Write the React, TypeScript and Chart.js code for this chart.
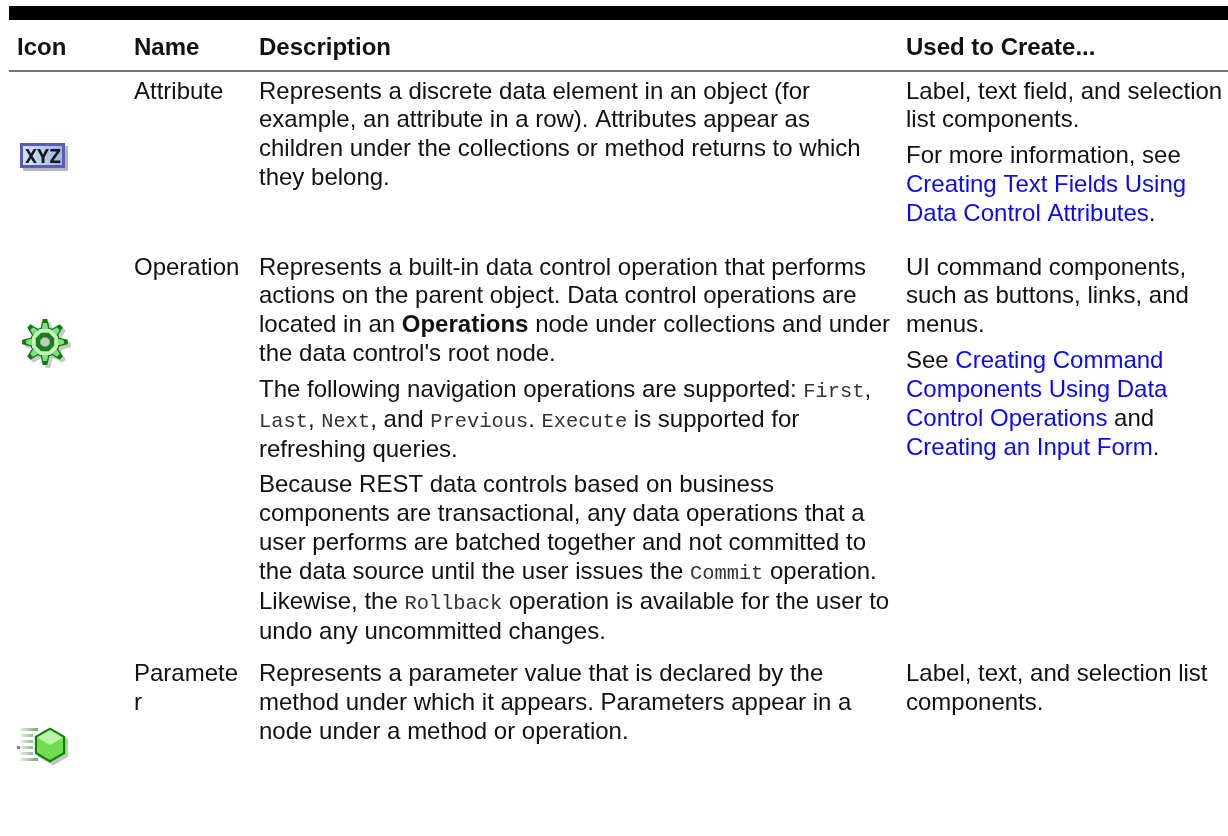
import React, { useEffect, useRef } from "react";
import { Chart, registerables } from "chart.js";

Chart.register(...registerables);

type Run = { t: string; s?: "b" | "m" | "l" };

const headers = ["Icon", "Name", "Description", "Used to Create..."];

const rowNames = [["Attribute"], ["Operation"], ["Paramete", "r"]];

const attributeDescription: Run[][][] = [
  [
    [{ t: "Represents a discrete data element in an object (for" }],
    [{ t: "example, an attribute in a row). Attributes appear as" }],
    [{ t: "children under the collections or method returns to which" }],
    [{ t: "they belong." }],
  ],
];

const operationDescription: Run[][][] = [
  [
    [{ t: "Represents a built-in data control operation that performs" }],
    [{ t: "actions on the parent object. Data control operations are" }],
    [{ t: "located in an " }, { t: "Operations", s: "b" }, { t: " node under collections and under" }],
    [{ t: "the data control's root node." }],
  ],
  [
    [{ t: "The following navigation operations are supported: " }, { t: "First", s: "m" }, { t: "," }],
    [{ t: "Last", s: "m" }, { t: ", " }, { t: "Next", s: "m" }, { t: ", and " }, { t: "Previous", s: "m" }, { t: ". " }, { t: "Execute", s: "m" }, { t: " is supported for" }],
    [{ t: "refreshing queries." }],
  ],
  [
    [{ t: "Because REST data controls based on business" }],
    [{ t: "components are transactional, any data operations that a" }],
    [{ t: "user performs are batched together and not committed to" }],
    [{ t: "the data source until the user issues the " }, { t: "Commit", s: "m" }, { t: " operation." }],
    [{ t: "Likewise, the " }, { t: "Rollback", s: "m" }, { t: " operation is available for the user to" }],
    [{ t: "undo any uncommitted changes." }],
  ],
];

const parameterDescription: Run[][][] = [
  [
    [{ t: "Represents a parameter value that is declared by the" }],
    [{ t: "method under which it appears. Parameters appear in a" }],
    [{ t: "node under a method or operation." }],
  ],
];

const attributeUse: Run[][][] = [
  [[{ t: "Label, text field, and selection" }], [{ t: "list components." }]],
  [
    [{ t: "For more information, see" }],
    [{ t: "Creating Text Fields Using", s: "l" }],
    [{ t: "Data Control Attributes", s: "l" }, { t: "." }],
  ],
];

const operationUse: Run[][][] = [
  [[{ t: "UI command components," }], [{ t: "such as buttons, links, and" }], [{ t: "menus." }]],
  [
    [{ t: "See " }, { t: "Creating Command", s: "l" }],
    [{ t: "Components Using Data", s: "l" }],
    [{ t: "Control Operations", s: "l" }, { t: " and" }],
    [{ t: "Creating an Input Form", s: "l" }, { t: "." }],
  ],
];

const parameterUse: Run[][][] = [
  [[{ t: "Label, text, and selection list" }], [{ t: "components." }]],
];

const descriptions = [attributeDescription, operationDescription, parameterDescription];
const uses = [attributeUse, operationUse, parameterUse];

const COL_X = [17, 134, 259, 906];
const HEADER_BASE = 55;
const ROW_BASE = [98.5, 274.5, 681];
const LINE = 28.9;
const GAP = 6.8;
const INK = "#111111";
const SANS = '"Liberation Sans"';
const MONO = '"Liberation Mono"';

function fontFor(s?: string) {
  if (s === "b") return `bold 24px ${SANS}`;
  if (s === "m") return `20.4px ${MONO}`;
  return `24px ${SANS}`;
}

function colorFor(s?: string) {
  if (s === "l") return "#0a0af0";
  if (s === "m") return "#333333";
  return INK;
}

function drawCell(ctx: CanvasRenderingContext2D, paras: Run[][][], x: number, base: number, px: (v: number) => number, py: (v: number) => number) {
  let y = base;
  paras.forEach((lines) => {
    lines.forEach((line) => {
      let cx = x;
      line.forEach((run) => {
        ctx.font = fontFor(run.s);
        ctx.fillStyle = colorFor(run.s);
        ctx.fillText(run.t, px(cx), py(y));
        cx += ctx.measureText(run.t).width;
      });
      y += LINE + (line.some((r) => r.s === "m") ? 1 : 0);
    });
    y += GAP;
  });
}

function polygon(ctx: CanvasRenderingContext2D, cx: number, cy: number, r: number, n: number, rot: number) {
  ctx.beginPath();
  for (let i = 0; i < n; i++) {
    const a = rot + (i * 2 * Math.PI) / n;
    const X = cx + r * Math.cos(a);
    const Y = cy + r * Math.sin(a);
    if (i === 0) ctx.moveTo(X, Y);
    else ctx.lineTo(X, Y);
  }
  ctx.closePath();
}

function drawXyz(ctx: CanvasRenderingContext2D, x: number, y: number) {
  ctx.fillStyle = "#b5b5bd";
  ctx.fillRect(x + 3, y + 3, 45, 25);
  const g = ctx.createLinearGradient(x, y, x + 44, y);
  g.addColorStop(0, "#d8e8f8");
  g.addColorStop(1, "#9db4dc");
  ctx.fillStyle = "#5c5cb4";
  ctx.fillRect(x, y, 45, 25);
  ctx.fillStyle = g;
  ctx.fillRect(x + 3, y + 3, 39, 19);
  ctx.fillStyle = "#15151f";
  ctx.font = `bold 20px "DejaVu Sans Mono"`;
  ctx.textAlign = "center";
  ["X", "Y", "Z"].forEach((c, i) => {
    ctx.fillText(c, x + 11 + i * 12, y + 20);
  });
  ctx.textAlign = "left";
}

function gearPath(ctx: CanvasRenderingContext2D, cx: number, cy: number, outer: number, root: number) {
  const teeth = 8;
  ctx.beginPath();
  for (let i = 0; i < teeth * 4; i++) {
    const a = (i * 2 * Math.PI) / (teeth * 4) - Math.PI / 2 - Math.PI / (teeth * 4);
    const r = i % 4 < 2 ? outer : root;
    const X = cx + r * Math.cos(a);
    const Y = cy + r * Math.sin(a);
    if (i === 0) ctx.moveTo(X, Y);
    else ctx.lineTo(X, Y);
  }
  ctx.closePath();
}

function drawGear(ctx: CanvasRenderingContext2D, cx: number, cy: number) {
  gearPath(ctx, cx + 3, cy + 3, 23, 15);
  ctx.fillStyle = "#c8c8c8";
  ctx.fill();
  gearPath(ctx, cx, cy, 23, 15);
  ctx.fillStyle = "#0a7d0a";
  ctx.fill();
  gearPath(ctx, cx, cy, 19, 12.5);
  ctx.fillStyle = "#7fe07f";
  ctx.fill();
  polygon(ctx, cx, cy, 14, 8, Math.PI / 8);
  ctx.fillStyle = "#c4f8bc";
  ctx.fill();
  polygon(ctx, cx, cy, 10, 8, Math.PI / 8);
  ctx.fillStyle = "#1c7d1c";
  ctx.fill();
  polygon(ctx, cx, cy, 5, 8, Math.PI / 8);
  ctx.fillStyle = "#c8c8c8";
  ctx.fill();
}

function drawParameter(ctx: CanvasRenderingContext2D, cx: number, cy: number) {
  const stripes = [-17, -11, -5, 1, 7, 13];
  stripes.forEach((dy, i) => {
    const g = ctx.createLinearGradient(cx - 30, 0, cx - 12, 0);
    g.addColorStop(0, "#e8f0e8");
    g.addColorStop(1, "#6fa96f");
    ctx.fillStyle = g;
    ctx.fillRect(cx - 30, cy + dy, i === 0 || i === 5 ? 18 : 13, 3);
  });
  ctx.fillStyle = "#808080";
  ctx.fillRect(cx - 33, cy + 1, 3, 3);
  polygon(ctx, cx + 3, cy + 3, 17.5, 6, Math.PI / 2);
  ctx.fillStyle = "#c4c4c4";
  ctx.fill();
  polygon(ctx, cx, cy, 17.5, 6, Math.PI / 2);
  ctx.fillStyle = "#0a820a";
  ctx.fill();
  polygon(ctx, cx, cy, 15, 6, Math.PI / 2);
  ctx.fillStyle = "#74dc50";
  ctx.fill();
  ctx.fillStyle = "#bcf7a8";
  ctx.beginPath();
  ctx.moveTo(cx, cy - 15);
  ctx.lineTo(cx + 13, cy - 7.5);
  ctx.lineTo(cx, cy);
  ctx.lineTo(cx - 13, cy - 7.5);
  ctx.closePath();
  ctx.fill();
}

const tablePlugin = {
  id: "tableText",
  afterDraw(chart: any) {
    const { ctx, scales } = chart;
    const px = (v: number) => scales.x.getPixelForValue(v);
    const py = (v: number) => scales.y.getPixelForValue(v);
    ctx.save();
    ctx.textBaseline = "alphabetic";
    ctx.textAlign = "left";
    ctx.font = `bold 24px ${SANS}`;
    ctx.fillStyle = INK;
    headers.forEach((h, i) => ctx.fillText(h, px(COL_X[i]), py(HEADER_BASE)));
    rowNames.forEach((lines, i) => {
      ctx.font = `24px ${SANS}`;
      ctx.fillStyle = INK;
      lines.forEach((l, j) => ctx.fillText(l, px(COL_X[1]), py(ROW_BASE[i] + j * LINE)));
      drawCell(ctx, descriptions[i], COL_X[2], ROW_BASE[i], px, py);
      drawCell(ctx, uses[i], COL_X[3], ROW_BASE[i], px, py);
    });
    drawXyz(ctx, px(20), py(143));
    drawGear(ctx, px(45), py(342));
    drawParameter(ctx, px(50), py(745));
    ctx.restore();
  },
};

export default function App() {
  const ref = useRef<HTMLCanvasElement>(null);
  useEffect(() => {
    document.body.style.margin = "0";
    const chart = new Chart(ref.current!, {
      type: "line",
      data: {
        datasets: [
          {
            data: [{ x: 9, y: 13 }, { x: 1228, y: 13 }],
            borderColor: "#000000",
            borderWidth: 14,
            pointRadius: 0,
            borderCapStyle: "butt",
          },
          {
            data: [{ x: 9, y: 71 }, { x: 1228, y: 71 }],
            borderColor: "#444444",
            borderWidth: 1.5,
            pointRadius: 0,
            borderCapStyle: "butt",
          },
        ],
      },
      options: {
        animation: false,
        responsive: false,
        layout: { padding: 0 },
        plugins: { legend: { display: false }, tooltip: { enabled: false } },
        scales: {
          x: { type: "linear", min: 0, max: 1228, display: false },
          y: { type: "linear", min: 0, max: 836, reverse: true, display: false },
        },
      },
      plugins: [tablePlugin],
    } as any);
    return () => chart.destroy();
  }, []);
  return <canvas ref={ref} width={1228} height={836} style={{ display: "block", background: "#ffffff" }} />;
}
